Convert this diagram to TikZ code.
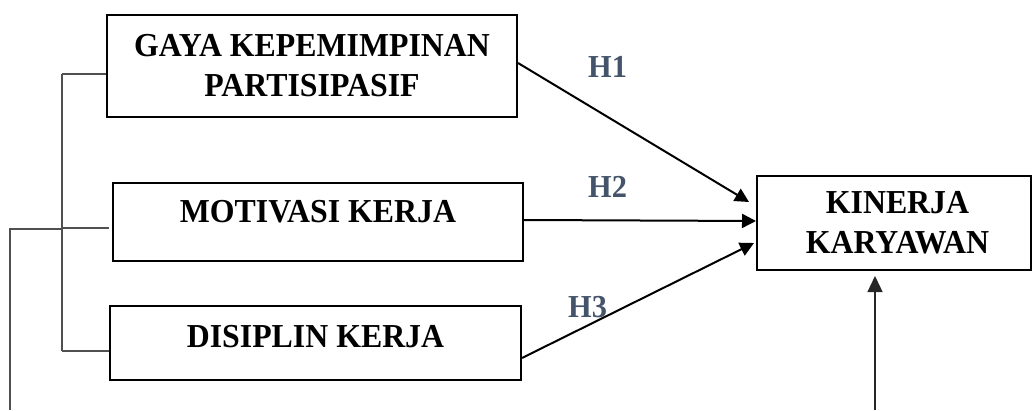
\documentclass[tikz,border=0pt]{standalone}
\usepackage{fontspec}
\setmainfont{Liberation Serif}
\newfontfamily\narrowserif[FakeStretch=0.95]{Liberation Serif}
\usetikzlibrary{arrows.meta}
\definecolor{hcol}{HTML}{44546A}
\definecolor{bracket}{HTML}{505050}
\tikzset{
  box/.style={draw=black, line width=2pt, rectangle, align=center, inner sep=0pt,
    font=\narrowserif\fontsize{33.5}{40}\selectfont\bfseries},
  hlab/.style={anchor=base west, inner sep=0pt, text=hcol,
    font=\narrowserif\fontsize{32}{38}\selectfont\bfseries},
  arr/.style={line width=2pt, -{Triangle[length=14pt,width=14pt]}},
  brk/.style={draw=bracket, line width=1.5pt},
}
\begin{document}
\begin{tikzpicture}[x=1pt,y=1pt]
\useasboundingbox (0,0) rectangle (1033,410);
\node[box, minimum width=410pt, minimum height=102pt] (b1) at (312,344) {GAYA KEPEMIMPINAN\\PARTISIPASIF};
\node[box, minimum width=410pt, minimum height=78pt, text height=22.2pt, text depth=20.2pt] (b2) at (318,188) {MOTIVASI KERJA};
\node[box, minimum width=411pt, minimum height=74pt, text height=22.2pt, text depth=14.2pt] (b3) at (315.5,67) {DISIPLIN KERJA};
\node[box, minimum width=274pt, minimum height=94pt] (b4) at (894,187) {\hspace*{7pt}KINERJA\\\hspace*{7pt}KARYAWAN};

\draw[arr] ([yshift=3pt]b1.east) -- ([xshift=-7pt,yshift=21pt]b4.west);
\draw[arr] ([yshift=2pt]b2.east) -- ([yshift=2pt]b4.west);
\draw[arr] ([yshift=-15pt]b3.east) -- ([xshift=-2pt,yshift=-20pt]b4.west);

\node[hlab] (h1) at (588,332) {H1};
\node[hlab] (h2) at (588,212) {H2};
\node[hlab] (h3) at (568,93) {H3};

\coordinate (bot) at (875,0);
\draw[line width=1.3pt, draw=black!85, -{Triangle[length=16pt,width=15pt]}] (bot) -- ([xshift=-19pt,yshift=-5pt]b4.south);

\coordinate (v1) at (62,336);
\coordinate (v2) at (62,182);
\coordinate (v3) at (62,59);
\coordinate (c1) at (10,181);
\coordinate (c2) at (10,0);
\draw[brk] (v1) -- ([yshift=-8pt]b1.west);
\draw[brk] (v2) -- ([xshift=-3pt,yshift=-6pt]b2.west);
\draw[brk] (v3) -- ([yshift=-8pt]b3.west);
\draw[brk] (v1) -- (v3);
\draw[brk] (c2) -- (c1) -- (62,181);
\end{tikzpicture}
\end{document}
